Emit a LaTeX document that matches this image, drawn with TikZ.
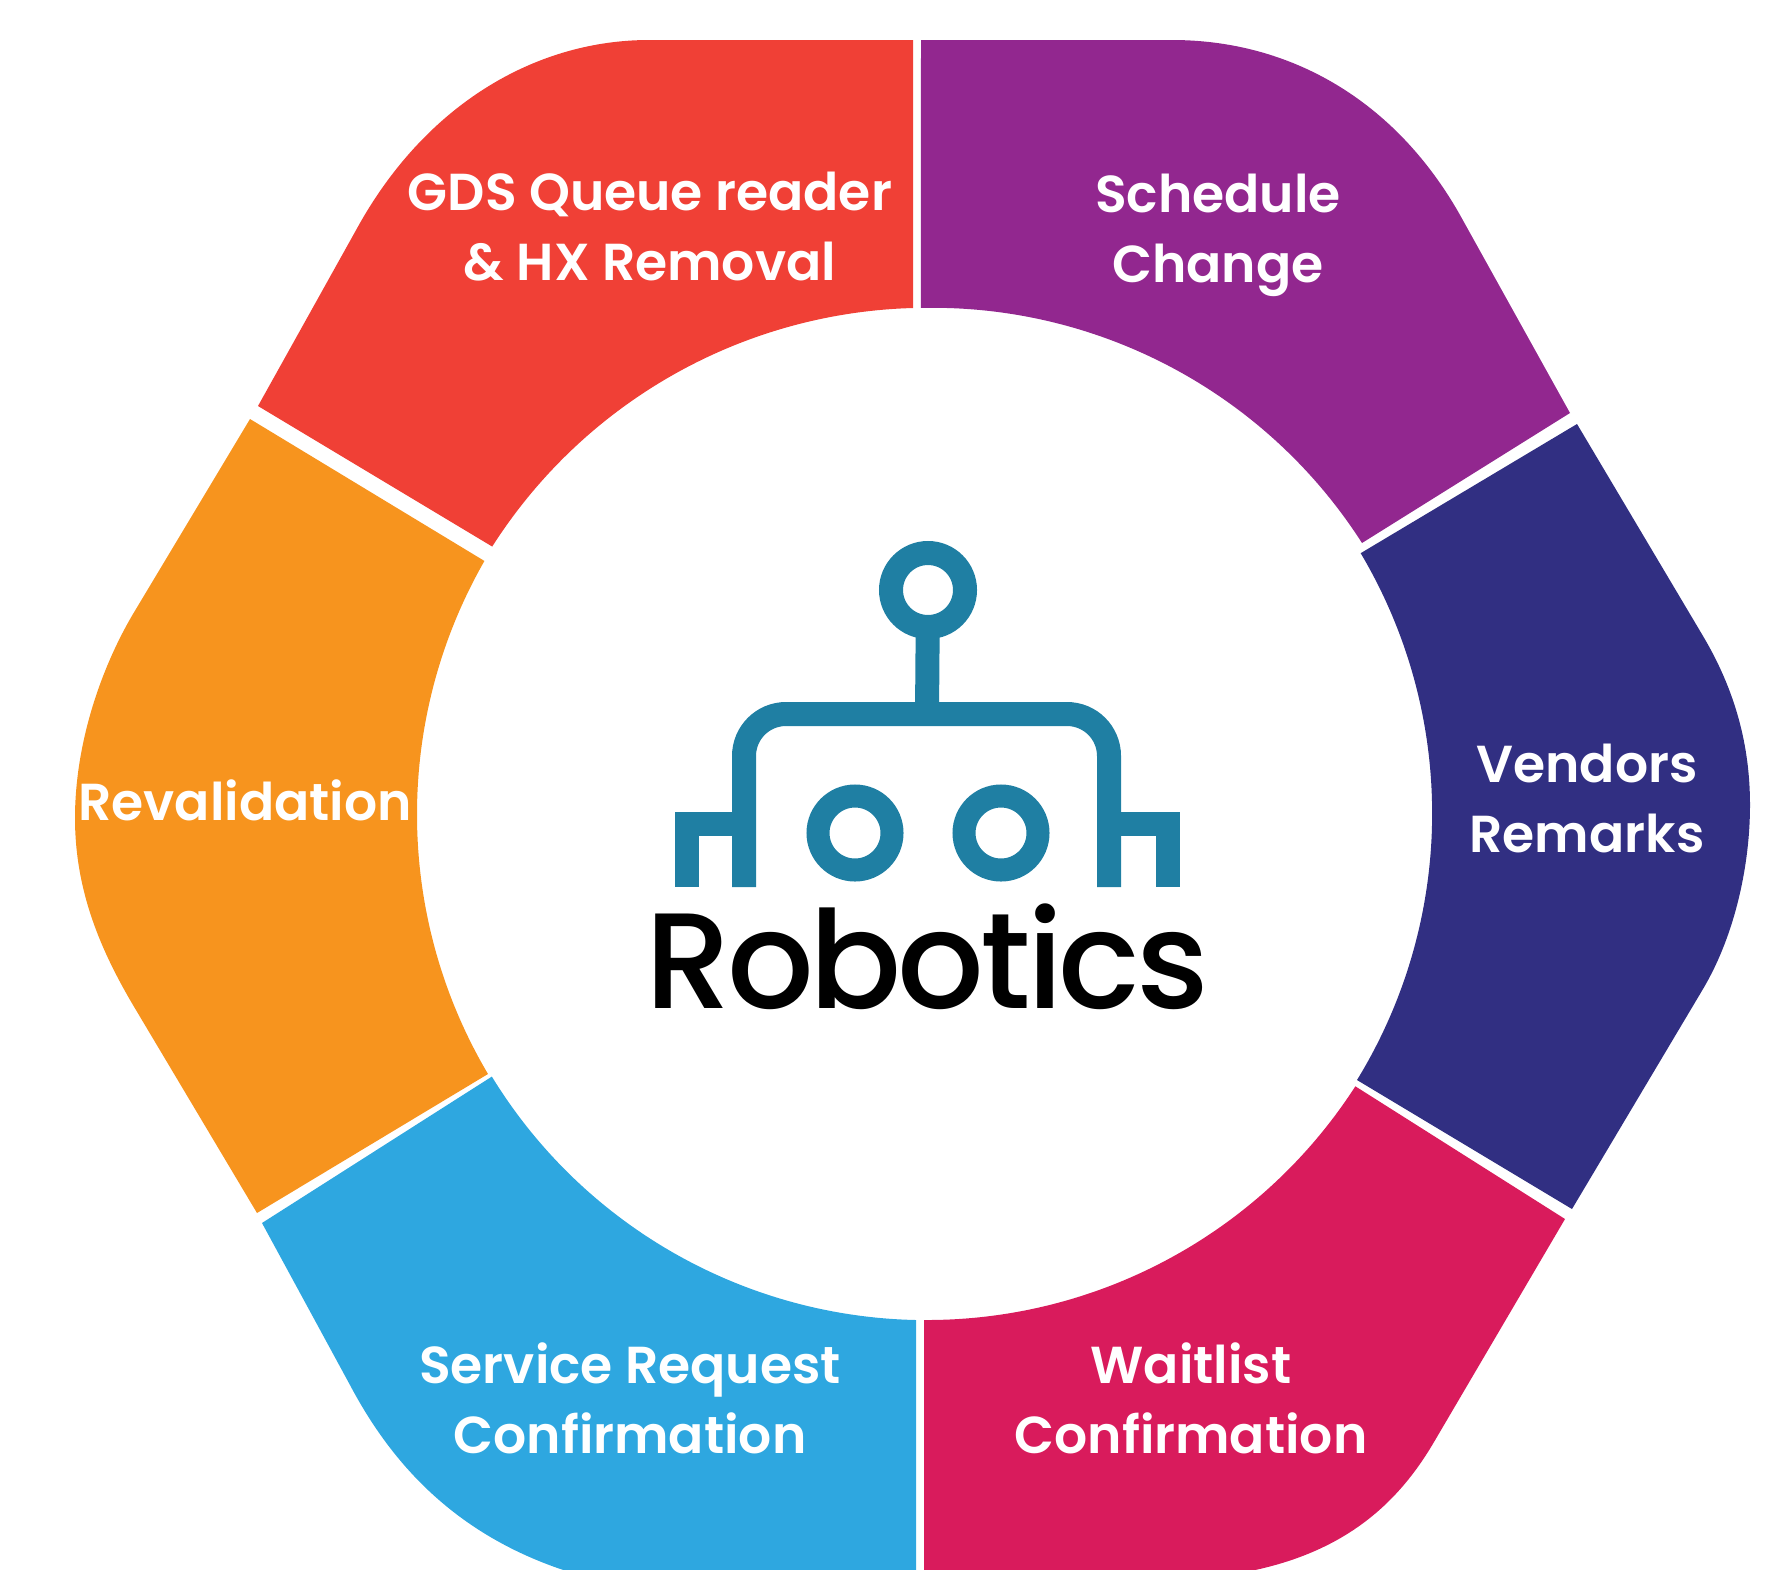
\documentclass[tikz,border=0pt]{standalone}
\usepackage{fontspec}
\newfontfamily\seglabelfont{Poppins SemiBold}
\newfontfamily\logofont{Poppins Medium}[LetterSpace=-3]
\definecolor{seggred}{HTML}{F04036}
\definecolor{seggpurple}{HTML}{92278F}
\definecolor{seggnavy}{HTML}{312F82}
\definecolor{seggpink}{HTML}{D91B5C}
\definecolor{seggblue}{HTML}{2EA7E0}
\definecolor{seggorange}{HTML}{F7941E}
\definecolor{logoteal}{HTML}{1F7FA3}
\newcommand{\rad}{510}

\begin{document}
\begin{tikzpicture}[x=1pt,y=-1pt,
    seglabel/.style={text=white, align=center, font=\seglabelfont\fontsize{52}{70}\selectfont, inner sep=0pt},
    logoline/.style={draw=logoteal, line width=24pt},
    eye/.style={draw=logoteal, line width=23pt, circle, minimum size=74pt, inner sep=0pt, outer sep=0pt}]

    \clip (0,0) rectangle (1782,1569);

    % Ring segments
    \fill[seggred] (258,406) -- (360,223) .. controls (430,100) and (540,40) .. (649,40) -- (913,40) -- (913,308)
        arc[start angle=268.4, end angle=212.5, radius=516] -- cycle;
    \fill[seggpurple] (921,40) -- (1172,40) .. controls (1290,40) and (1395,100) .. (1460,215) -- (1570,413) -- (1362,543)
        arc[start angle=327.4, end angle=268.7, radius=\rad] -- cycle;
    \fill[seggnavy] (1577,424) -- (1703,636) .. controls (1735,690) and (1750,745) .. (1750,805)
        .. controls (1750,865) and (1735,935) .. (1703,989) -- (1572,1209) -- (1357,1080)
        arc[start angle=31.5, end angle=-30.7, radius=\rad] -- cycle;
    \fill[seggpink] (1565,1219) -- (1434,1442) .. controls (1390,1517) and (1320,1575) .. (1170,1580) -- (924,1580) -- (924,1320)
        arc[start angle=90.3, end angle=32.8, radius=\rad] -- cycle;
    \fill[seggblue] (262,1223) -- (350,1385) .. controls (395,1470) and (470,1555) .. (620,1585) -- (916,1585) -- (916,1320)
        arc[start angle=91.2, end angle=148.5, radius=\rad] -- cycle;
    \fill[seggorange] (250,419) -- (133,614) .. controls (100,670) and (75,745) .. (75,818)
        .. controls (75,890) and (100,949) .. (133,1005) -- (257,1213) -- (488,1074)
        arc[start angle=149.4, end angle=209.8, radius=\rad] -- cycle;

    % Labels
    \node[seglabel] (gds) at (650,227) {GDS Queue reader\\\& HX Removal};
    \node[seglabel] (schedule) at (1218,235) {Schedule\\Change};
    \node[seglabel] (vendors) at (1587,798) {Vendors\\Remarks};
    \node[seglabel] (waitlist) at (1191,1398) {Waitlist\\Confirmation};
    \node[seglabel] (service) at (630,1398) {Service Request\\Confirmation};
    \node[seglabel] (revalidation) at (245,800) {Revalidation};

    % Logo
    \node[eye, line width=24pt] (antenna) at (928,590) {};
    \node[eye] (lefteye) at (855,833) {};
    \node[eye] (righteye) at (1001,833) {};
    \coordinate (barjoin) at (927,714);
    \draw[logoline] (antenna) -- (barjoin);
    \draw[logoline, rounded corners=42pt] (744,887) -- (744,714) -- (1109,714) -- (1109,887);
    \draw[logoline] (744,824) -- (687,824) -- (687,887);
    \draw[logoline] (1109,824) -- (1168,824) -- (1168,887);
    \node[font=\logofont\fontsize{136}{136}\selectfont, inner sep=0pt, anchor=base] (robotics) at (927,1008) {Robotics};
\end{tikzpicture}
\end{document}
